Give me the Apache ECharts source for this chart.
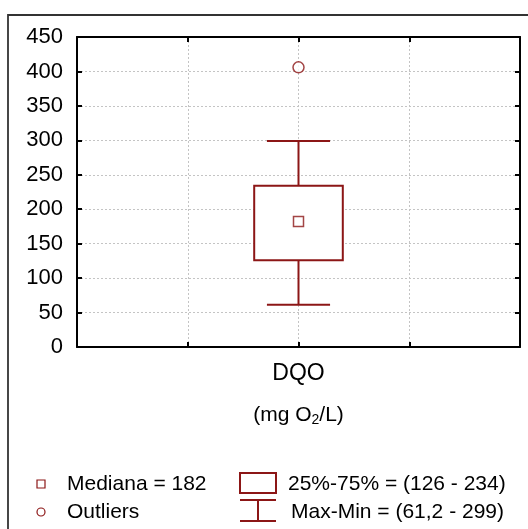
<!DOCTYPE html>
<html>
<head>
<meta charset="utf-8">
<script src="https://cdn.jsdelivr.net/npm/echarts@6/dist/echarts.min.js"></script>
<style>html,body{margin:0;padding:0;background:#fff;}#c{width:528px;height:529px;}</style>
</head>
<body>
<div id="c"></div>
<script>
// ---- data ----
const categories = ['DQO'];
const unitLabel = '(mg O{sub|2}/L)';
const boxMin = [61.2];
const boxQ1 = [126];
const boxMedian = [182];
const boxQ3 = [234];
const boxMax = [299];
const outliers = [[406]];
const yMin = 0, yMax = 450, yStep = 50;

const RED = '#8c1616';
const FONT = 'Liberation Sans, Arial, sans-serif';
const catPos = i => 2 + i; // centre of 0..4 axis
const fmt = v => String(v).replace('.', ',');

const boxData = categories.map((c, i) => [catPos(i), boxMin[i], boxQ1[i], boxMedian[i], boxQ3[i], boxMax[i]]);
const medianData = categories.map((c, i) => [catPos(i), boxMedian[i]]);
const outlierData = [];
categories.forEach((c, i) => outliers[i].forEach(v => outlierData.push([catPos(i), v])));

const chart = echarts.init(document.getElementById('c'), null, {renderer: 'canvas'});

const axisLineStyle = {show: true, onZero: false, lineStyle: {color: '#000', width: 2}};
const tickStyle = {show: true, inside: true, length: 5, lineStyle: {color: '#000', width: 2}};
const splitStyle = {show: true, lineStyle: {color: '#c4c4c4', width: 1, type: [2, 2]}};

chart.setOption({
  animation: false,
  backgroundColor: '#fff',
  textStyle: {fontFamily: FONT},
  grid: {left: 77, right: 8, top: 37, bottom: 182, containLabel: false},
  xAxis: [
    {type: 'value', min: 0, max: 4, interval: 1, position: 'bottom',
     axisLine: axisLineStyle, axisTick: tickStyle, splitLine: splitStyle,
     axisLabel: {show: true, margin: 15, fontSize: 23, color: '#000', fontFamily: FONT,
                 formatter: v => { const i = v - 2; return (i >= 0 && i < categories.length && Number.isInteger(i)) ? categories[i] : ''; }},
     name: unitLabel, nameLocation: 'middle', nameGap: 56,
     nameTextStyle: {fontSize: 21, color: '#000', fontFamily: FONT, lineHeight: 24,
                     rich: {sub: {fontSize: 14, color: '#000', fontFamily: FONT, verticalAlign: 'bottom', lineHeight: 12}}}},
    {type: 'value', min: 0, max: 4, interval: 1, position: 'top',
     axisLine: axisLineStyle, axisTick: tickStyle, splitLine: {show: false}, axisLabel: {show: false}}
  ],
  yAxis: [
    {type: 'value', min: yMin, max: yMax, interval: yStep, position: 'left',
     axisLine: axisLineStyle, axisTick: tickStyle, splitLine: splitStyle,
     axisLabel: {margin: 14, fontSize: 22, color: '#000', fontFamily: FONT}},
    {type: 'value', min: yMin, max: yMax, interval: yStep, position: 'right',
     axisLine: axisLineStyle, axisTick: tickStyle, splitLine: {show: false}, axisLabel: {show: false}}
  ],
  series: [
    {type: 'custom', xAxisIndex: 0, yAxisIndex: 0, data: boxData, z: 5,
     renderItem: (params, api) => {
       const x = api.value(0);
       const unit = api.size([1, 0])[0];
       const bw = unit * 0.8, cw = unit * 0.57;
       const pMin = api.coord([x, api.value(1)]);
       const pQ1 = api.coord([x, api.value(2)]);
       const pQ3 = api.coord([x, api.value(4)]);
       const pMax = api.coord([x, api.value(5)]);
       const st = {stroke: RED, lineWidth: 2, fill: null};
       return {type: 'group', children: [
         {type: 'line', shape: {x1: pMax[0], y1: pMax[1], x2: pQ3[0], y2: pQ3[1]}, style: st},
         {type: 'line', shape: {x1: pQ1[0], y1: pQ1[1], x2: pMin[0], y2: pMin[1]}, style: st},
         {type: 'line', shape: {x1: pMax[0] - cw / 2, y1: pMax[1], x2: pMax[0] + cw / 2, y2: pMax[1]}, style: st},
         {type: 'line', shape: {x1: pMin[0] - cw / 2, y1: pMin[1], x2: pMin[0] + cw / 2, y2: pMin[1]}, style: st},
         {type: 'rect', shape: {x: pQ3[0] - bw / 2, y: pQ3[1], width: bw, height: pQ1[1] - pQ3[1]},
          style: {stroke: RED, lineWidth: 2, fill: '#fff'}}
       ]};
     }},
    {type: 'scatter', data: medianData, symbol: 'rect', symbolSize: 10, z: 6,
     itemStyle: {color: '#fff', borderColor: RED, borderWidth: 1.5}},
    {type: 'scatter', data: outlierData, symbol: 'circle', symbolSize: 11, z: 6,
     itemStyle: {color: '#fff', borderColor: RED, borderWidth: 1.5}}
  ],
  graphic: [
    {type: 'rect', shape: {x: 8, y: 15, width: 600, height: 600}, style: {stroke: '#333', lineWidth: 1.8, fill: null}, z: -1, silent: true},
    // legend
    {type: 'rect', shape: {x: 37, y: 480, width: 8, height: 8}, style: {stroke: RED, lineWidth: 1.2, fill: '#fff'}},
    {type: 'text', x: 67, y: 484, style: {text: 'Mediana = ' + fmt(boxMedian[0]), fontSize: 21, fontFamily: FONT, fill: '#000', verticalAlign: 'middle'}},
    {type: 'circle', shape: {cx: 41, cy: 512, r: 4}, style: {stroke: RED, lineWidth: 1.2, fill: '#fff'}},
    {type: 'text', x: 67, y: 512, style: {text: 'Outliers', fontSize: 21, fontFamily: FONT, fill: '#000', verticalAlign: 'middle'}},
    {type: 'rect', shape: {x: 240, y: 473, width: 36, height: 20}, style: {stroke: RED, lineWidth: 2, fill: '#fff'}},
    {type: 'text', x: 288, y: 484, style: {text: '25%-75% = (' + fmt(boxQ1[0]) + ' - ' + fmt(boxQ3[0]) + ')', fontSize: 21, fontFamily: FONT, fill: '#000', verticalAlign: 'middle'}},
    {type: 'line', shape: {x1: 240, y1: 500, x2: 276, y2: 500}, style: {stroke: RED, lineWidth: 2}},
    {type: 'line', shape: {x1: 258, y1: 500, x2: 258, y2: 521}, style: {stroke: RED, lineWidth: 2}},
    {type: 'line', shape: {x1: 240, y1: 521, x2: 276, y2: 521}, style: {stroke: RED, lineWidth: 2}},
    {type: 'text', x: 291, y: 512, style: {text: 'Max-Min = (' + fmt(boxMin[0]) + ' - ' + fmt(boxMax[0]) + ')', fontSize: 21, fontFamily: FONT, fill: '#000', verticalAlign: 'middle'}}
  ]
});
</script>
</body>
</html>
